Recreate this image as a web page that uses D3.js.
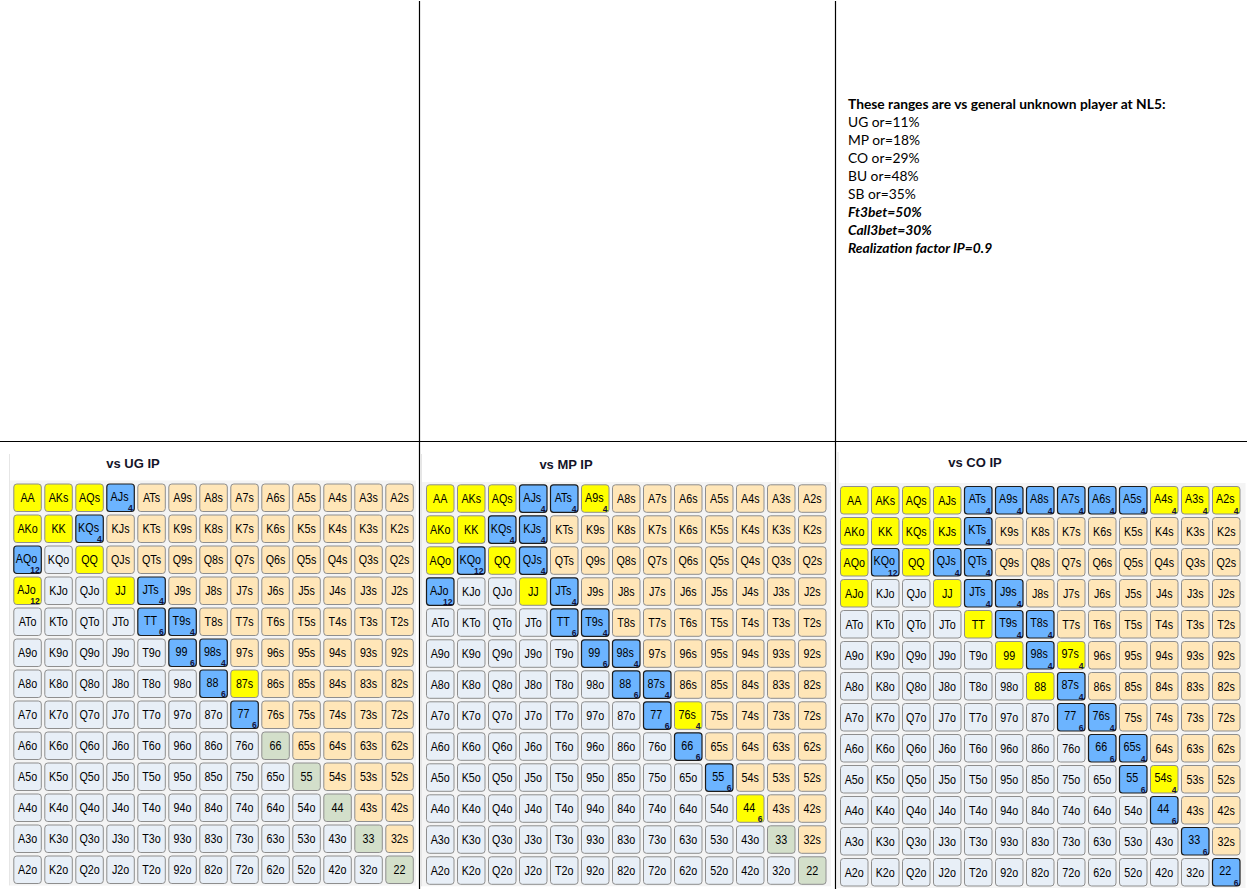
<!DOCTYPE html>
<html>
<head>
<meta charset="utf-8">
<script src="https://cdn.jsdelivr.net/npm/d3@7/dist/d3.min.js"></script>
<style>
  html, body { margin: 0; padding: 0; background: #fff; }
  svg { display: block; }
</style>
</head>
<body>
<svg id="chart" width="1247" height="889"></svg>
<script>
// ---------------- DATA ----------------
const ranks = ["A","K","Q","J","T","9","8","7","6","5","4","3","2"];

const infoLines = [
  "These ranges are vs general unknown player at NL5:",
  "UG or=11%",
  "MP or=18%",
  "CO or=29%",
  "BU or=48%",
  "SB or=35%",
  "Ft3bet=50%",
  "Call3bet=30%",
  "Realization factor IP=0.9"
];
const infoStyles = ["bold","normal","normal","normal","normal","normal","bolditalic","bolditalic","bolditalic"];

const panelTitles = ["vs UG IP", "vs MP IP", "vs CO IP"];

// yellow cells
const ugYellow = ["AA","AKs","AQs","AKo","KK","QQ","AJo","JJ","87s"];
const mpYellow = ["AA","AKs","AQs","A9s","AKo","KK","AQo","QQ","JJ","76s","44"];
const coYellow = ["AA","AKs","AQs","AJs","A4s","A3s","A2s","AKo","KK","KQs","KJs","AQo","QQ","AJo","JJ","TT","99","97s","88","54s"];

// blue cells
const ugBlue = ["AJs","KQs","AQo","JTs","TT","T9s","99","98s","88","77"];
const mpBlue = ["AJs","ATs","KQs","KJs","KQo","QJs","AJo","JTs","TT","T9s","99","98s","88","87s","77","66","55"];
const coBlue = ["ATs","A9s","A8s","A7s","A6s","A5s","KTs","KQo","QJs","QTs","JTs","J9s","T9s","T8s","98s","87s","77","76s","66","65s","55","44","33","22"];

// green (uncoloured pairs keep this tint)
const ugGreen = ["66","55","44","33","22"];
const mpGreen = ["33","22"];
const coGreen = [];

// small corner numbers
const ugNumbers = [["AJs",4],["KQs",4],["AQo",12],["AJo",12],["JTs",4],["TT",6],["T9s",4],["99",6],["98s",4],["88",6],["77",6]];
const mpNumbers = [["AJs",4],["ATs",4],["A9s",4],["KQs",4],["KJs",4],["KQo",12],["QJs",4],["AJo",12],["JTs",4],["TT",6],["T9s",4],["99",6],["98s",4],["88",6],["87s",4],["77",6],["76s",4],["66",6],["55",6],["44",6]];
const coNumbers = [["ATs",4],["A9s",4],["A8s",4],["A7s",4],["A6s",4],["A5s",4],["A4s",4],["A3s",4],["A2s",4],["KTs",4],["KQo",12],["QJs",4],["QTs",4],["JTs",4],["J9s",4],["T9s",4],["T8s",4],["98s",4],["97s",4],["87s",4],["77",6],["76s",4],["66",6],["65s",4],["55",6],["54s",4],["44",6],["33",6],["22",6]];

// ---------------- LAYOUT ----------------
const svg = d3.select("#chart");
const W = 1247, H = 889;

const colors = {
  yellow: "#ffff00",
  blue: "#6cb4ff",
  suited: "#ffe6b8",
  offsuit: "#e8eff7",
  pair: "#d3dfca",
  gridBg: "#f4f4f4"
};

const panels = [
  { title: panelTitles[0], yellow: ugYellow, blue: ugBlue, green: ugGreen, nums: ugNumbers,
    gx: 13.3, gy: 483.5, tx: 133, ty: 468, bx: 9.5, by: 454, bw: 406, bgy: 480.5 },
  { title: panelTitles[1], yellow: mpYellow, blue: mpBlue, green: mpGreen, nums: mpNumbers,
    gx: 426, gy: 484.3, tx: 566, ty: 469, bx: 421.5, by: 454, bw: 409, bgy: 482 },
  { title: panelTitles[2], yellow: coYellow, blue: coBlue, green: coGreen, nums: coNumbers,
    gx: 840, gy: 486, tx: 975, ty: 467, bx: 838, by: 452, bw: 407, bgy: 483 }
];

const step = 31, bandW = 28.5;
const span = step * (ranks.length - (step - bandW) / step);

function handLabel(i, j) {
  if (i === j) return ranks[i] + ranks[j];
  if (i < j) return ranks[i] + ranks[j] + "s";
  return ranks[j] + ranks[i] + "o";
}

const cells = [];
ranks.forEach((r, i) => ranks.forEach((c, j) => cells.push({ i, j, row: r, col: c, label: handLabel(i, j) })));

panels.forEach(p => {
  const x = d3.scaleBand().domain(ranks).range([p.gx, p.gx + span]).paddingInner((step - bandW) / step).paddingOuter(0);
  const y = d3.scaleBand().domain(ranks).range([p.gy, p.gy + span]).paddingInner((step - bandW) / step).paddingOuter(0);
  const numMap = new Map(p.nums);

  const g = svg.append("g");

  // panel frame
  g.append("line")
    .attr("x1", p.bx).attr("x2", p.bx).attr("y1", p.by).attr("y2", p.gy + span + 1.5)
    .attr("stroke", "#e6e6e6").attr("stroke-width", 1);
  g.append("rect")
    .attr("x", p.bx + 0.5).attr("y", p.bgy)
    .attr("width", p.bw).attr("height", p.gy + span + 1.5 - p.bgy)
    .attr("fill", colors.gridBg);

  g.append("text")
    .attr("x", p.tx).attr("y", p.ty)
    .attr("text-anchor", "middle")
    .attr("font-family", "'Liberation Sans', Arial, sans-serif")
    .attr("font-weight", "bold")
    .attr("font-size", 13)
    .attr("fill", "#141428")
    .text(p.title);

  const kind = d => {
    if (p.yellow.includes(d.label)) return "yellow";
    if (p.blue.includes(d.label)) return "blue";
    if (d.i === d.j) return p.green.includes(d.label) ? "pair" : "offsuit";
    return d.i < d.j ? "suited" : "offsuit";
  };

  const cg = g.selectAll("g.cell").data(cells).join("g").attr("class", "cell");

  cg.append("rect")
    .attr("x", d => x(d.col) + 0.5)
    .attr("y", d => y(d.row) + 0.5)
    .attr("width", x.bandwidth() - 1)
    .attr("height", y.bandwidth() - 1)
    .attr("rx", 3).attr("ry", 3)
    .attr("fill", d => colors[kind(d)])
    .attr("stroke", d => kind(d) === "blue" ? "#1c1c1c" : "#8e8e8e")
    .attr("stroke-width", d => kind(d) === "blue" ? 1.2 : 1);

  cg.append("text")
    .attr("transform", d => {
      const cx = x(d.col) + x.bandwidth() / 2 - (numMap.has(d.label) ? 1 : 0);
      const cy = y(d.row) + y.bandwidth() / 2 + (numMap.has(d.label) ? 3 : 4.5);
      return `translate(${cx},${cy}) scale(0.86,1)`;
    })
    .attr("text-anchor", "middle")
    .attr("font-family", "'Liberation Sans', Arial, sans-serif")
    .attr("font-size", 12.5)
    .attr("fill", "#000")
    .text(d => d.label);

  cg.filter(d => numMap.has(d.label)).append("text")
    .attr("x", d => x(d.col) + x.bandwidth() - 2)
    .attr("y", d => y(d.row) + y.bandwidth() - 1)
    .attr("text-anchor", "end")
    .attr("font-family", "'Liberation Sans', Arial, sans-serif")
    .attr("font-weight", "bold")
    .attr("font-size", 8.5)
    .attr("fill", "#10103a")
    .text(d => numMap.get(d.label));
});

// dividers
svg.append("line").attr("x1", 419.5).attr("x2", 419.5).attr("y1", 1).attr("y2", H).attr("stroke", "#000").attr("stroke-width", 1.2);
svg.append("line").attr("x1", 835.5).attr("x2", 835.5).attr("y1", 1).attr("y2", H).attr("stroke", "#000").attr("stroke-width", 1.2);
svg.append("line").attr("x1", 0).attr("x2", W).attr("y1", 441.5).attr("y2", 441.5).attr("stroke", "#000").attr("stroke-width", 1.2);

// info text
const info = svg.append("g")
  .attr("font-family", "Lato, 'Open Sans', sans-serif")
  .attr("font-size", 13.8)
  .attr("fill", "#000");
info.selectAll("text").data(infoLines).join("text")
  .attr("x", 848)
  .attr("y", (d, i) => 108.5 + i * 18)
  .attr("font-weight", (d, i) => infoStyles[i] === "normal" ? "normal" : "bold")
  .attr("font-style", (d, i) => infoStyles[i] === "bolditalic" ? "italic" : "normal")
  .text(d => d);
</script>
</body>
</html>
